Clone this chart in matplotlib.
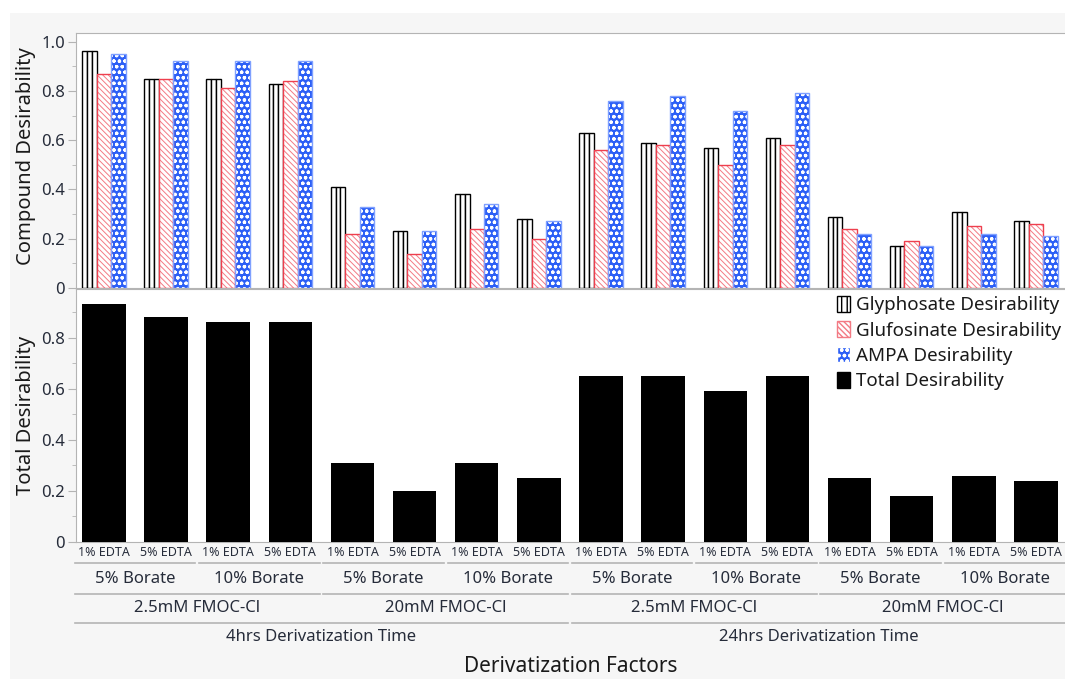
import matplotlib
matplotlib.use('Agg')
import matplotlib.pyplot as plt
import numpy as np
from matplotlib.patches import Patch, Rectangle
from matplotlib.ticker import FuncFormatter, MultipleLocator
import matplotlib.transforms as mtransforms

plt.rcParams['font.family'] = ['Noto Sans', 'DejaVu Sans']

# desirability per run (16 runs, ordered time > FMOC > borate > EDTA)
glyphosate = [0.96, 0.85, 0.85, 0.83, 0.41, 0.23, 0.38, 0.28, 0.63, 0.59, 0.57, 0.61, 0.29, 0.17, 0.31, 0.27]
glufosinate = [0.87, 0.85, 0.81, 0.84, 0.22, 0.14, 0.24, 0.20, 0.56, 0.58, 0.50, 0.58, 0.24, 0.19, 0.25, 0.26]
ampa = [0.95, 0.92, 0.92, 0.92, 0.33, 0.23, 0.34, 0.27, 0.76, 0.78, 0.72, 0.79, 0.22, 0.17, 0.22, 0.21]
total = [0.93, 0.88, 0.86, 0.86, 0.31, 0.20, 0.31, 0.25, 0.65, 0.65, 0.59, 0.65, 0.25, 0.18, 0.26, 0.24]

# factor levels, innermost first
edta_levels = ['1% EDTA', '5% EDTA']
borate_levels = ['5% Borate', '10% Borate']
fmoc_levels = ['2.5mM FMOC-Cl', '20mM FMOC-Cl']
time_levels = ['4hrs Derivatization Time', '24hrs Derivatization Time']

W, H = 1065, 679
TEXT = '#262c3a'
GRID = '#b4b4b4'
RED = '#ee3f4e'
RED_HATCH = '#f37a84'
BLUE = '#2c5ff6'
RED_HATCH_PAT = '\\' * 6
DOT_PAT = 'ooo'

fig = plt.figure(figsize=(W / 100, H / 100), dpi=100, facecolor='white')
# light gray panel behind everything
fig.patches.append(Rectangle((10 / W, 0), 1, 1 - 13 / H, transform=fig.transFigure,
							 facecolor='#f6f6f6', edgecolor='none', zorder=-10))

def px_axes(x0, y0, x1, y1):
	return fig.add_axes([x0 / W, 1 - y1 / H, (x1 - x0) / W, (y1 - y0) / H])

ax_top = px_axes(76, 33, W + 2, 288)
ax_bot = px_axes(76, 289, W + 2, 542)

n = len(total)
x = np.arange(n)
group_w = 0.7
bw = group_w / 3

# --- compound desirability panel ---
for xi, g in zip(x, glyphosate):
	# glyphosate: white bar split into three columns
	sub = bw / 3
	for k in range(3):
		ax_top.bar(xi - bw + (k - 1) * sub, g, width=sub, facecolor='white',
				   edgecolor='black', linewidth=1.0, zorder=3)

# glufosinate: light red diagonal lines, red outline
for b in ax_top.bar(x, glufosinate, width=bw, facecolor='white', edgecolor=RED_HATCH,
					hatch=RED_HATCH_PAT, linewidth=0, zorder=3):
	b.set_hatch_linewidth(0.7)
ax_top.bar(x, glufosinate, width=bw, facecolor='none', edgecolor=RED, linewidth=1.0, zorder=4)

# ampa: blue with white dots
ax_top.bar(x + bw, ampa, width=bw, facecolor=BLUE, edgecolor='none', zorder=3)
for b in ax_top.bar(x + bw, ampa, width=bw, facecolor='none', edgecolor='white',
					hatch=DOT_PAT, linewidth=0, zorder=4):
	b.set_hatch_linewidth(0.9)
ax_top.bar(x + bw, ampa, width=bw, facecolor='none', edgecolor='#7fa0ff',
		   linewidth=1.0, zorder=5)

# --- total desirability panel ---
ax_bot.bar(x, total, width=group_w, color='black', zorder=3)

def fmt(v, pos):
	return '0' if abs(v) < 1e-9 else '%.1f' % v

for ax in (ax_top, ax_bot):
	ax.set_facecolor('white')
	ax.set_xlim(-0.45, n - 0.5)
	ax.set_xticks([])
	ax.yaxis.set_major_locator(MultipleLocator(0.2))
	ax.yaxis.set_minor_locator(MultipleLocator(0.1))
	ax.yaxis.set_major_formatter(FuncFormatter(fmt))
	ax.tick_params(axis='y', which='major', length=6, color=GRID, labelsize=12,
				   labelcolor=TEXT, pad=2)
	ax.tick_params(axis='y', which='minor', length=3, color=GRID)
	ax.spines['right'].set_visible(False)
	for s in ('left', 'top', 'bottom'):
		ax.spines[s].set_color(GRID)

ax_top.set_ylim(0, 1.035)
ax_bot.set_ylim(0, 0.99)

fig.text(26 / W, 1 - 156 / H, 'Compound Desirability', rotation=90, ha='center',
		 va='center', fontsize=14.5, color='#1a1a1a')
fig.text(26 / W, 1 - 415 / H, 'Total Desirability', rotation=90, ha='center',
		 va='center', fontsize=14.5, color='#1a1a1a')

# legend
handles = [
	Patch(facecolor='white', edgecolor='black', hatch='|||', label='Glyphosate Desirability'),
	Patch(facecolor='white', edgecolor=RED_HATCH, hatch=RED_HATCH_PAT, label='Glufosinate Desirability'),
	Patch(facecolor=BLUE, edgecolor='white', hatch=DOT_PAT, label='AMPA Desirability'),
	Patch(facecolor='black', edgecolor='black', label='Total Desirability'),
]
leg = ax_bot.legend(handles=handles, loc='upper left', bbox_to_anchor=(837 / W, 1 - 296 / H),
					bbox_transform=fig.transFigure, frameon=False, fontsize=13.5,
					handlelength=0.7, handleheight=0.9, handletextpad=0.3,
					labelspacing=0.38, borderpad=0, borderaxespad=0)
for t in leg.get_texts():
	t.set_color('#1a1a1a')

# --- nested category labels under the plot ---
trans = mtransforms.blended_transform_factory(ax_bot.transData, fig.transFigure)

def fy(py):
	return 1 - py / H

def level_row(labels, span, text_y, line_y, size):
	for i in range(0, n, span):
		lab = labels[(i // span) % len(labels)]
		c = i + (span - 1) / 2
		ax_bot.text(c, fy(text_y), lab, transform=trans, ha='center', va='center',
					fontsize=size, color=TEXT, clip_on=False)
		if line_y is not None:
			ax_bot.plot([i - 0.47, i + span - 0.53], [fy(line_y), fy(line_y)],
						transform=trans, color=GRID, lw=1.2, clip_on=False)

level_row(edta_levels, 1, 553, None, 9)
level_row(borate_levels, 2, 579, 563, 12)
level_row(fmoc_levels, 4, 608, 594, 12)
level_row(time_levels, 8, 637, 623, 12)

fig.text((76 + W) / 2 / W, fy(666), 'Derivatization Factors', ha='center', va='center',
		 fontsize=15, color='#1a1a1a')

fig.savefig('out.png', dpi=100, facecolor=fig.get_facecolor())
